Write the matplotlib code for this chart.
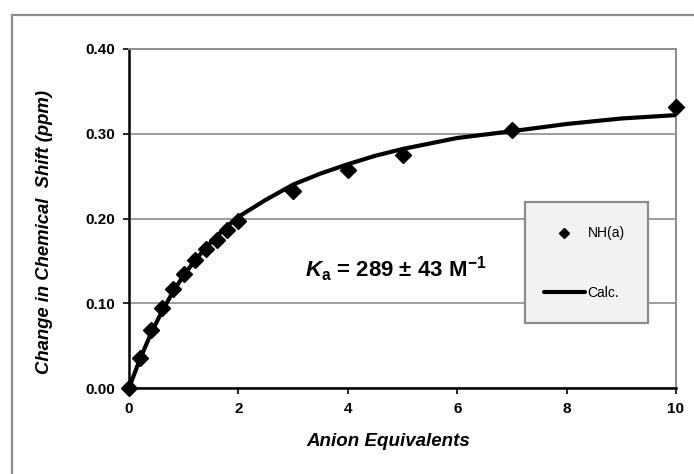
import numpy as np
import matplotlib
matplotlib.use('Agg')
import matplotlib.pyplot as plt
from matplotlib.patches import Rectangle

plt.rcParams['font.family'] = ['Liberation Sans', 'DejaVu Sans']
plt.rcParams['mathtext.fontset'] = 'custom'
plt.rcParams['mathtext.rm'] = 'Liberation Sans:bold'
plt.rcParams['mathtext.it'] = 'Liberation Sans:bold:italic'
plt.rcParams['mathtext.bf'] = 'Liberation Sans:bold'

# measured points NH(a)
equiv = [0, 0.2, 0.4, 0.6, 0.8, 1.0, 1.2, 1.4, 1.6, 1.8, 2.0, 3.0, 4.0, 5.0, 7.0, 10.0]
shift = [0.0, 0.035, 0.069, 0.094, 0.117, 0.134, 0.151, 0.164, 0.175, 0.187,
         0.197, 0.232, 0.257, 0.275, 0.305, 0.331]

# calculated fit curve
calc_x = [0, 0.2, 0.4, 0.6, 0.8, 1.0, 1.2, 1.4, 1.6, 1.8, 2.0, 2.5, 3.0, 3.5,
          4.0, 4.5, 5.0, 6.0, 7.0, 8.0, 9.0, 10.0]
calc_y = [0.0, 0.034, 0.064, 0.090, 0.113, 0.133, 0.150, 0.165, 0.179, 0.191,
          0.202, 0.222, 0.240, 0.253, 0.264, 0.274, 0.282, 0.295, 0.303, 0.3115,
          0.318, 0.322]

xticks = [0, 2, 4, 6, 8, 10]
yticks = [0.0, 0.1, 0.2, 0.3, 0.4]

W, H = 694, 474
fig = plt.figure(figsize=(W / 100, H / 100), dpi=100)
ax = fig.add_axes([129 / W, 1 - 388 / H, (676 - 129) / W, (388 - 49) / H])

# outer chart frame (runs off the right and bottom edges)
fig.patches.append(Rectangle((12 / W, -0.2), 1.2, 1.2 - 15 / H,
                             transform=fig.transFigure, fill=False,
                             edgecolor='#8c8c8c', lw=1.6, clip_on=False))

ax.plot(calc_x, calc_y, color='black', lw=3.0, label='Calc.', zorder=3,
        solid_capstyle='round')
ax.plot(equiv, shift, linestyle='none', marker='D', markersize=7.8,
        color='black', label='NH(a)', zorder=4, clip_on=False)

ax.set_xlim(0, 10)
ax.set_ylim(0, 0.4)
ax.set_xticks(xticks)
ax.set_yticks(yticks)
ax.set_xticklabels([str(t) for t in xticks], fontsize=11, fontweight='bold')
ax.set_yticklabels([f'{t:.2f}' for t in yticks], fontsize=11, fontweight='bold')
ax.tick_params(direction='out', length=4, width=1.2, color='black', pad=6)
ax.yaxis.grid(True, color='#8c8c8c', lw=1.2)
ax.set_axisbelow(True)
for s in ['left', 'bottom']:
    ax.spines[s].set_color('black')
    ax.spines[s].set_linewidth(1.8)
for s in ['top', 'right']:
    ax.spines[s].set_color('#8c8c8c')
    ax.spines[s].set_linewidth(1.4)

fig.text(45 / W, 1 - 232 / H, 'Change in Chemical  Shift (ppm)', rotation=90,
         ha='center', va='center', fontsize=13.3, fontweight='bold', style='italic')
fig.text(388 / W, 1 - 442 / H, 'Anion Equivalents', ha='center', va='center',
         fontsize=13.5, fontweight='bold', style='italic')
fig.text(396 / W, 1 - 277 / H, r'$K_\mathrm{a}$ = 289 ± 43 M$^\mathrm{-1}$',
         ha='center', va='baseline', fontsize=16, fontweight='bold')

# legend box drawn separately so its size matches the original
ax.add_patch(Rectangle((525 / W, 1 - 323 / H), (648 - 525) / W, (323 - 202) / H,
                       transform=fig.transFigure, facecolor='#f2f2f2',
                       edgecolor='#8c8c8c', lw=1.6, zorder=5, clip_on=False))

h, l = ax.get_legend_handles_labels()
leg = ax.legend([h[1], h[0]], [l[1], l[0]], loc='center left',
                bbox_to_anchor=(544 / W, 1 - 263 / H), bbox_transform=fig.transFigure,
                borderaxespad=0, fontsize=10, handlelength=2.95, handletextpad=0.2,
                labelspacing=3.25, borderpad=0, markerscale=0.6, frameon=False)
leg.set_zorder(6)

fig.savefig('out.png', dpi=100)
